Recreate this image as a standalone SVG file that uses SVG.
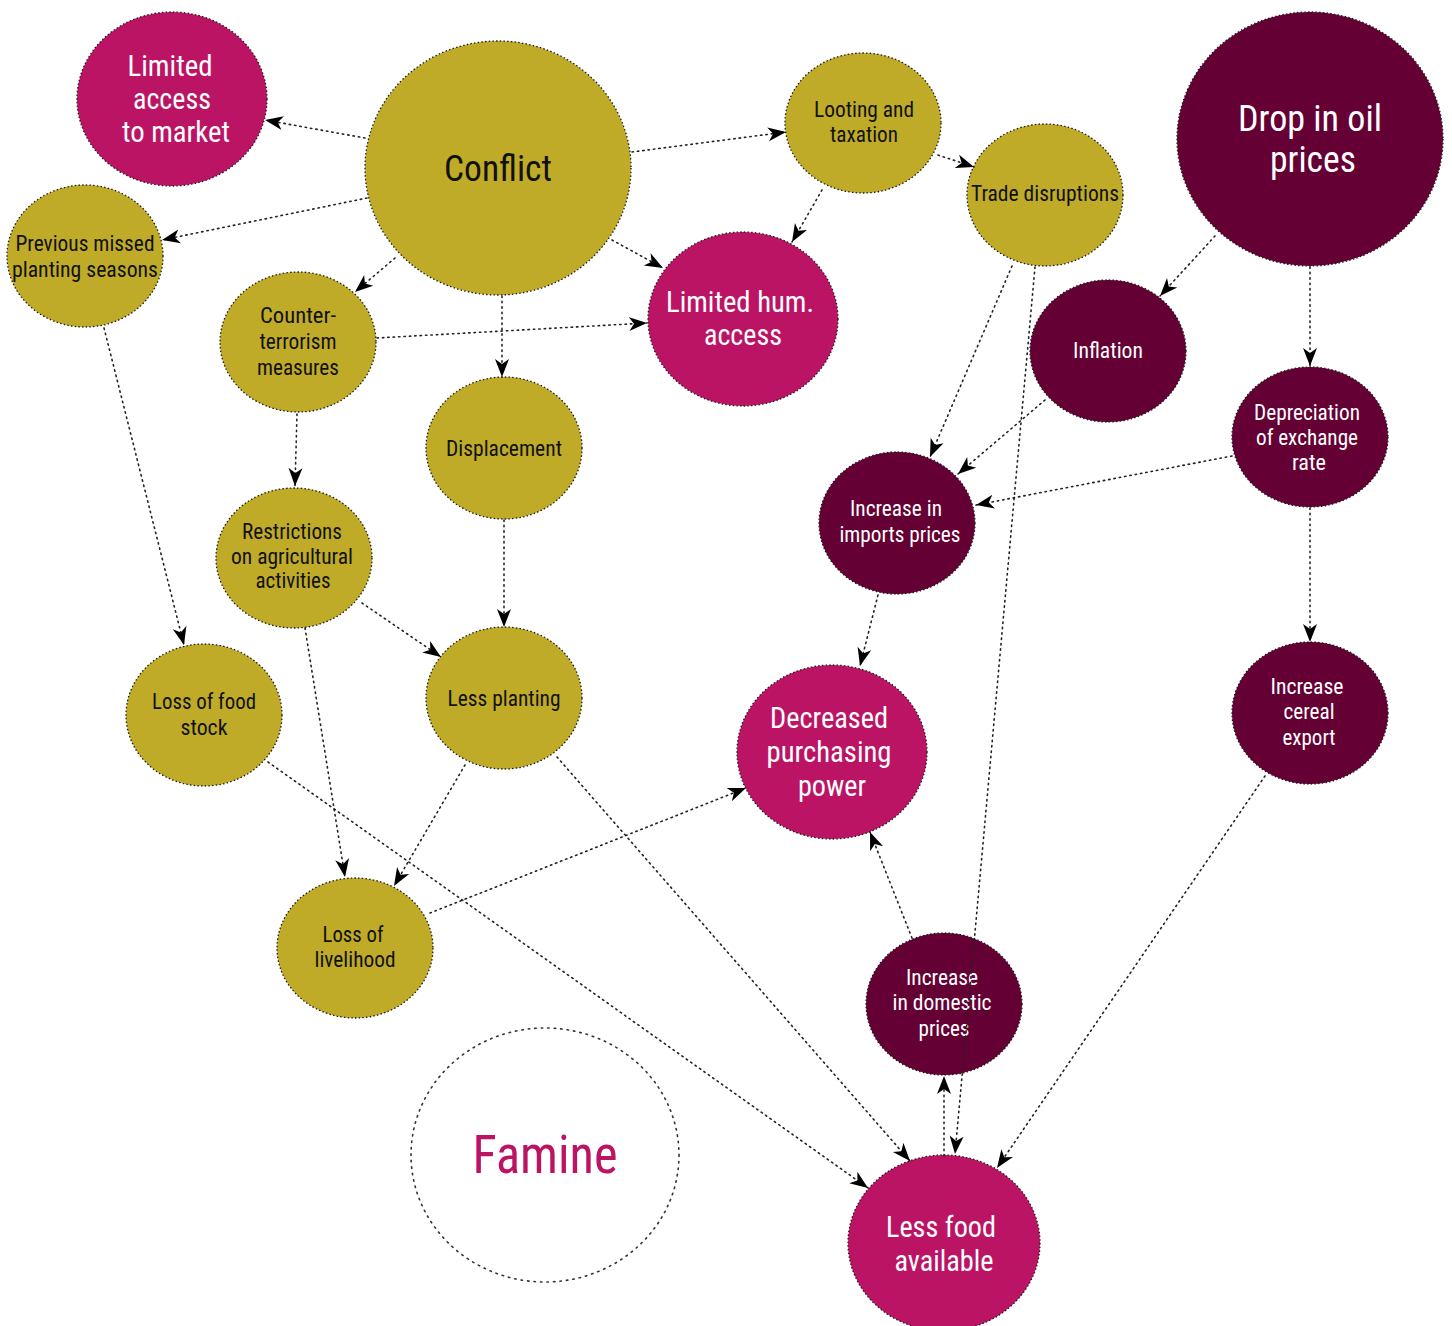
<svg xmlns="http://www.w3.org/2000/svg" width="1452" height="1326" viewBox="0 0 1452 1326">
<style>
.ol{fill:#bfab27;stroke:#1a1a1a;stroke-width:1.3;stroke-dasharray:1.5 2.2}
.mg{fill:#bc1464;stroke:#1a1a1a;stroke-width:1.3;stroke-dasharray:1.5 2.2}
.dk{fill:#650034;stroke:#1a1a1a;stroke-width:1.3;stroke-dasharray:1.5 2.2}
.wh{fill:#ffffff;stroke:#333;stroke-width:1.6;stroke-dasharray:1.5 5;stroke-linecap:round}
text{font-family:"Roboto Condensed",Roboto,"Liberation Sans",sans-serif;text-anchor:middle}
.s{font-size:22.5px}
.m{font-size:30px}
.l{font-size:36px}
.b{fill:#111}
.w{fill:#fff}
#edges line{stroke:#222;stroke-width:1.6;stroke-dasharray:1.4 4;stroke-linecap:round;fill:none;marker-end:url(#ah)}
</style>
<defs>
<marker id="ah" markerUnits="userSpaceOnUse" markerWidth="22" markerHeight="18" refX="18" refY="8" orient="auto">
<path d="M0,1 L18,8 L0,15 L5,8 z" fill="#000"/>
</marker>
</defs>
<rect width="1452" height="1326" fill="#fff"/>

<g id="n-market"><ellipse class="mg" cx="172" cy="99" rx="95" ry="87"/>
<text class="m w" x="170" y="76" textLength="85" lengthAdjust="spacingAndGlyphs">Limited</text>
<text class="m w" x="172" y="109" textLength="78" lengthAdjust="spacingAndGlyphs">access</text>
<text class="m w" x="176" y="142" textLength="108" lengthAdjust="spacingAndGlyphs">to market</text></g>

<g id="n-conflict"><ellipse class="ol" cx="498" cy="168" rx="133" ry="127"/>
<text class="l b" x="498" y="181" textLength="108" lengthAdjust="spacingAndGlyphs">Conflict</text></g>

<g id="n-looting"><ellipse class="ol" cx="863" cy="123" rx="78" ry="70"/>
<text class="s b" x="864" y="117" textLength="100" lengthAdjust="spacingAndGlyphs">Looting and</text>
<text class="s b" x="864" y="142" textLength="68" lengthAdjust="spacingAndGlyphs">taxation</text></g>

<g id="n-trade"><ellipse class="ol" cx="1045" cy="195" rx="78" ry="71"/>
<text class="s b" x="1045" y="201" textLength="148" lengthAdjust="spacingAndGlyphs">Trade disruptions</text></g>

<g id="n-oil"><ellipse class="dk" cx="1310" cy="139" rx="133" ry="127"/>
<text class="l w" x="1310" y="131" textLength="144" lengthAdjust="spacingAndGlyphs">Drop in oil</text>
<text class="l w" x="1313" y="172" textLength="86" lengthAdjust="spacingAndGlyphs">prices</text></g>

<g id="n-missed"><ellipse class="ol" cx="85" cy="256" rx="78" ry="71"/>
<text class="s b" x="85" y="251" textLength="139" lengthAdjust="spacingAndGlyphs">Previous missed</text>
<text class="s b" x="85" y="277" textLength="146" lengthAdjust="spacingAndGlyphs">planting seasons</text></g>

<g id="n-counter"><ellipse class="ol" cx="298" cy="342" rx="78" ry="70"/>
<text class="s b" x="298" y="323" textLength="76" lengthAdjust="spacingAndGlyphs">Counter-</text>
<text class="s b" x="298" y="349" textLength="77" lengthAdjust="spacingAndGlyphs">terrorism</text>
<text class="s b" x="298" y="375" textLength="82" lengthAdjust="spacingAndGlyphs">measures</text></g>

<g id="n-hum"><ellipse class="mg" cx="743" cy="319" rx="95" ry="87"/>
<text class="m w" x="740" y="312" textLength="148" lengthAdjust="spacingAndGlyphs">Limited hum.</text>
<text class="m w" x="743" y="345" textLength="78" lengthAdjust="spacingAndGlyphs">access</text></g>

<g id="n-inflation"><ellipse class="dk" cx="1108" cy="351" rx="78" ry="71"/>
<text class="s w" x="1108" y="358" textLength="70" lengthAdjust="spacingAndGlyphs">Inflation</text></g>

<g id="n-deprec"><ellipse class="dk" cx="1310" cy="437" rx="78" ry="70"/>
<text class="s w" x="1307" y="420" textLength="106" lengthAdjust="spacingAndGlyphs">Depreciation</text>
<text class="s w" x="1307" y="445" textLength="102" lengthAdjust="spacingAndGlyphs">of exchange</text>
<text class="s w" x="1309" y="470" textLength="34" lengthAdjust="spacingAndGlyphs">rate</text></g>

<g id="n-displace"><ellipse class="ol" cx="504" cy="448" rx="78" ry="71"/>
<text class="s b" x="504" y="456" textLength="116" lengthAdjust="spacingAndGlyphs">Displacement</text></g>

<g id="n-imports"><ellipse class="dk" cx="897" cy="523" rx="78" ry="71"/>
<text class="s w" x="896" y="516" textLength="92" lengthAdjust="spacingAndGlyphs">Increase in</text>
<text class="s w" x="900" y="542" textLength="121" lengthAdjust="spacingAndGlyphs">imports prices</text></g>

<g id="n-restrict"><ellipse class="ol" cx="294" cy="558" rx="78" ry="70"/>
<text class="s b" x="292" y="539" textLength="100" lengthAdjust="spacingAndGlyphs">Restrictions</text>
<text class="s b" x="292" y="564" textLength="122" lengthAdjust="spacingAndGlyphs">on agricultural</text>
<text class="s b" x="293" y="588" textLength="75" lengthAdjust="spacingAndGlyphs">activities</text></g>

<g id="n-lessplant"><ellipse class="ol" cx="504" cy="698" rx="78" ry="71"/>
<text class="s b" x="504" y="706" textLength="113" lengthAdjust="spacingAndGlyphs">Less planting</text></g>

<g id="n-stock"><ellipse class="ol" cx="204" cy="715" rx="78" ry="71"/>
<text class="s b" x="204" y="709" textLength="104" lengthAdjust="spacingAndGlyphs">Loss of food</text>
<text class="s b" x="204" y="735" textLength="47" lengthAdjust="spacingAndGlyphs">stock</text></g>

<g id="n-purchasing"><ellipse class="mg" cx="832" cy="752" rx="95" ry="87"/>
<text class="m w" x="829" y="728" textLength="118" lengthAdjust="spacingAndGlyphs">Decreased</text>
<text class="m w" x="829" y="762" textLength="125" lengthAdjust="spacingAndGlyphs">purchasing</text>
<text class="m w" x="832" y="796" textLength="68" lengthAdjust="spacingAndGlyphs">power</text></g>

<g id="n-cereal"><ellipse class="dk" cx="1310" cy="713" rx="78" ry="71"/>
<text class="s w" x="1307" y="694" textLength="73" lengthAdjust="spacingAndGlyphs">Increase</text>
<text class="s w" x="1309" y="719" textLength="51" lengthAdjust="spacingAndGlyphs">cereal</text>
<text class="s w" x="1309" y="745" textLength="53" lengthAdjust="spacingAndGlyphs">export</text></g>

<g id="n-livelihood"><ellipse class="ol" cx="355" cy="948" rx="78" ry="70"/>
<text class="s b" x="353" y="942" textLength="61" lengthAdjust="spacingAndGlyphs">Loss of</text>
<text class="s b" x="355" y="967" textLength="81" lengthAdjust="spacingAndGlyphs">livelihood</text></g>

<g id="n-famine"><ellipse class="wh" cx="545" cy="1155" rx="134" ry="127"/>
<text x="545" y="1173" font-size="54" fill="#bc1464" textLength="145" lengthAdjust="spacingAndGlyphs">Famine</text></g>

<g id="n-domestic"><ellipse class="dk" cx="944" cy="1004" rx="78" ry="71"/>
<text class="s w" x="942" y="985" textLength="72" lengthAdjust="spacingAndGlyphs">Increase</text>
<text class="s w" x="942" y="1010" textLength="99" lengthAdjust="spacingAndGlyphs">in domestic</text>
<text class="s w" x="944" y="1036" textLength="51" lengthAdjust="spacingAndGlyphs">prices</text></g>

<g id="n-lessfood"><ellipse class="mg" cx="944" cy="1243" rx="96" ry="88"/>
<text class="m w" x="941" y="1237" textLength="110" lengthAdjust="spacingAndGlyphs">Less food</text>
<text class="m w" x="944" y="1271" textLength="99" lengthAdjust="spacingAndGlyphs">available</text></g>

<g id="edges">
<line x1="365" y1="138" x2="265" y2="120"/>
<line x1="367" y1="198" x2="162" y2="240"/>
<line x1="632" y1="152" x2="786" y2="132"/>
<line x1="612" y1="240" x2="663" y2="268"/>
<line x1="395" y1="258" x2="355" y2="292"/>
<line x1="502" y1="296" x2="502" y2="377"/>
<line x1="938" y1="155" x2="974" y2="167"/>
<line x1="822" y1="190" x2="792" y2="242"/>
<line x1="377" y1="338" x2="647" y2="323"/>
<line x1="297" y1="414" x2="295" y2="486"/>
<line x1="104" y1="328" x2="184" y2="645"/>
<line x1="1215" y1="236" x2="1160" y2="296"/>
<line x1="1310" y1="267" x2="1310" y2="366"/>
<line x1="1012" y1="266" x2="930" y2="457"/>
<line x1="1035" y1="267" x2="955" y2="1154"/>
<line x1="944" y1="1156" x2="944" y2="1076"/>
<line x1="1045" y1="400" x2="958" y2="474"/>
<line x1="1232" y1="456" x2="976" y2="505"/>
<line x1="1310" y1="508" x2="1310" y2="642"/>
<line x1="878" y1="595" x2="860" y2="666"/>
<line x1="1265" y1="776" x2="997" y2="1168"/>
<line x1="362" y1="603" x2="441" y2="657"/>
<line x1="504" y1="520" x2="504" y2="627"/>
<line x1="305" y1="628" x2="345" y2="877"/>
<line x1="465" y1="765" x2="394" y2="886"/>
<line x1="430" y1="913" x2="746" y2="788"/>
<line x1="268" y1="762" x2="868" y2="1188"/>
<line x1="557" y1="757" x2="910" y2="1161"/>
<line x1="912" y1="938" x2="870" y2="832"/>
</g>
</svg>
